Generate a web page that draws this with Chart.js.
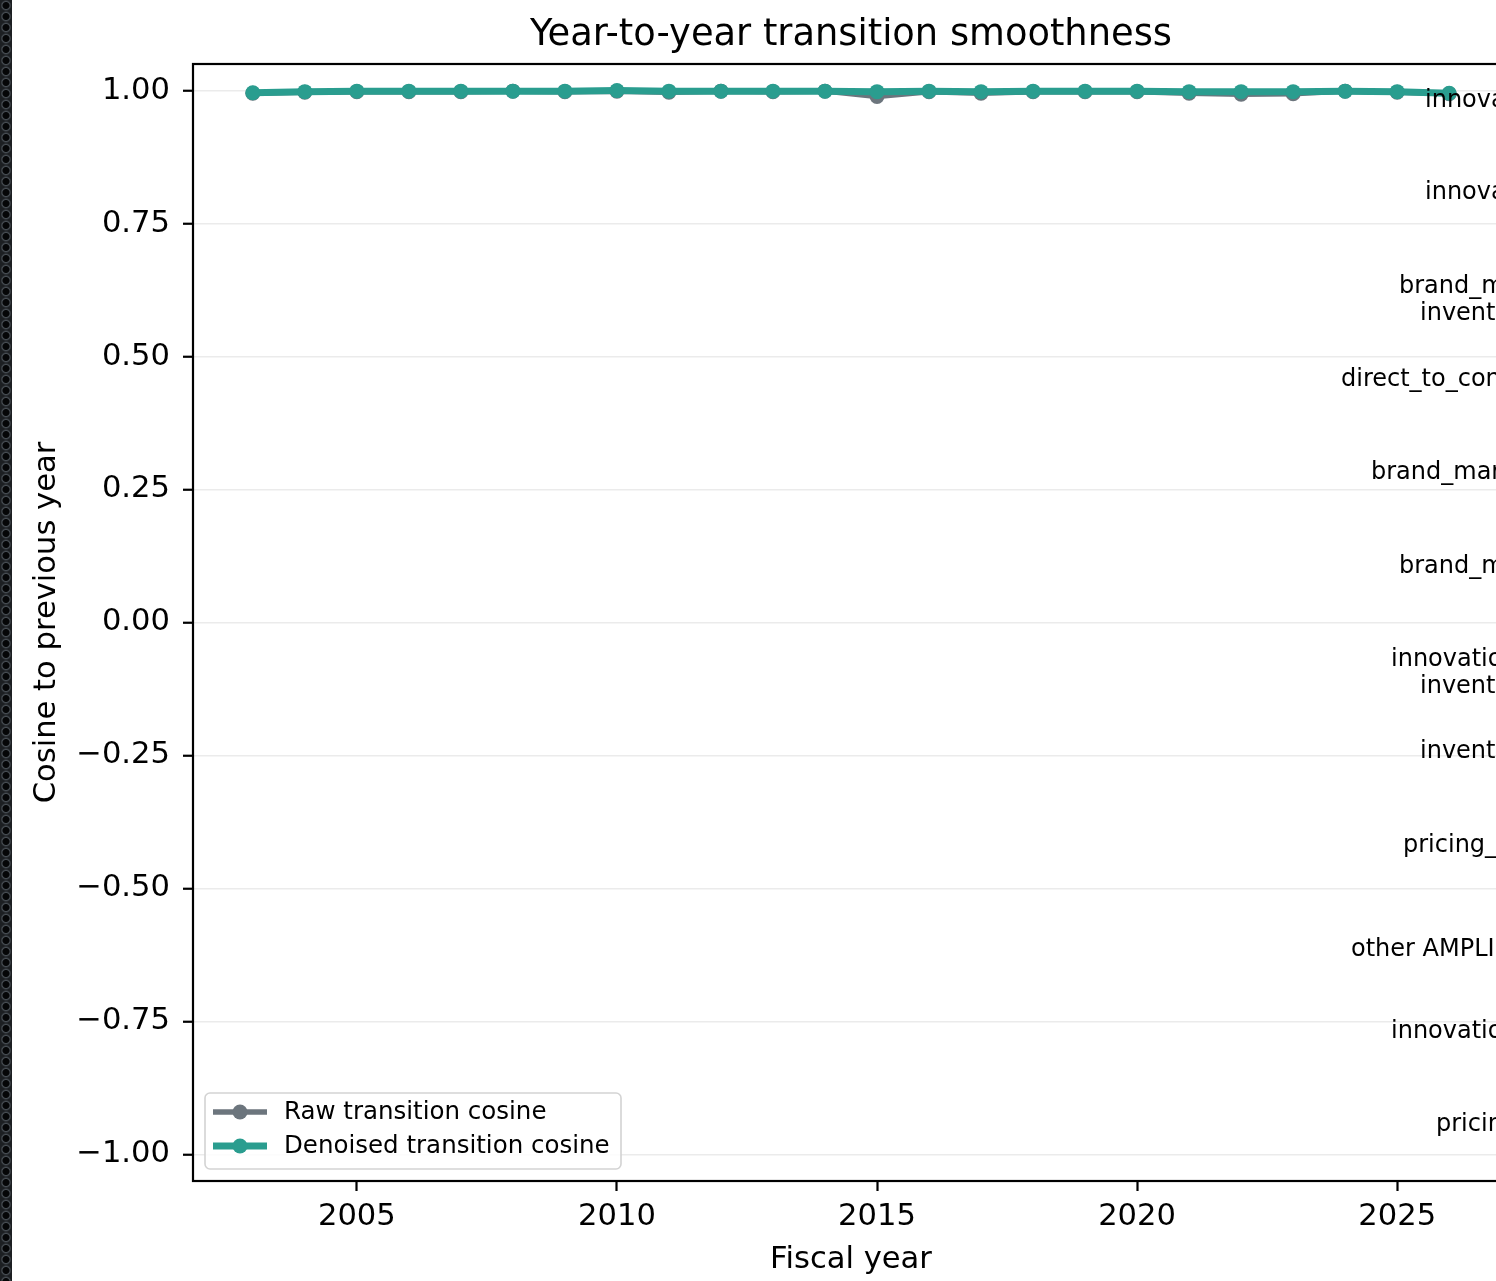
<!DOCTYPE html>
<html>
<head>
<meta charset="utf-8">
<title>Year-to-year transition smoothness</title>
<script src="https://cdn.jsdelivr.net/npm/chart.js@4.4.1/dist/chart.umd.min.js"></script>
<style>
  html, body { margin: 0; padding: 0; background: #fff; overflow: hidden; width: 1496px; height: 1281px; }
  #wrap { position: relative; width: 1496px; height: 1281px; overflow: hidden; }
  #c { position: absolute; left: 0; top: 0; }
  #edge {
    position: absolute; left: 0; top: 0; width: 12px; height: 1281px;
    background-color: #15181b;
    background-image: radial-gradient(circle, #050607 0 3px, #474d53 4px, #1c1f22 5.5px);
    background-size: 12px 11px;
  }
</style>
</head>
<body>
<div id="wrap">
  <canvas id="c" width="1700" height="1281"></canvas>
  <div id="edge"></div>
</div>
<script>
// ---- data ----
const years = [2003, 2004, 2005, 2006, 2007, 2008, 2009, 2010, 2011, 2012, 2013, 2014,
               2015, 2016, 2017, 2018, 2019, 2020, 2021, 2022, 2023, 2024, 2025, 2026];
const rawCosine = [0.995, 0.997, 0.998, 0.998, 0.998, 0.999, 0.998, 0.999, 0.997, 0.999, 0.998, 0.999,
                   0.989, 0.998, 0.995, 0.998, 0.998, 0.998, 0.995, 0.993, 0.994, 0.999, 0.997, 0.994];
const denoisedCosine = [0.996, 0.998, 0.999, 0.999, 0.999, 0.999, 0.999, 1.000, 0.999, 0.999, 0.999, 0.999,
                        0.998, 0.999, 0.998, 0.999, 0.999, 0.999, 0.998, 0.998, 0.998, 0.999, 0.998, 0.995];
const xTickValues = [2005, 2010, 2015, 2020, 2025];
const yTickValues = [-1.0, -0.75, -0.5, -0.25, 0.0, 0.25, 0.5, 0.75, 1.0];
const seriesNames = ['Raw transition cosine', 'Denoised transition cosine'];
const sideLabelLines = ['innovation', 'innovation', 'brand_marketing', 'inventory', 'direct_to_consumer',
                        'brand_marketing', 'brand_marketing', 'innovation', 'inventory', 'inventory',
                        'pricing_power', 'other AMPLIFY', 'innovation', 'pricing'];

// ---- layout / style ----
const FONT = "'DejaVu Sans', 'Liberation Sans', sans-serif";
const RAW_COLOR = '#6c757d';
const DENOISED_COLOR = '#2a9d8f';
const AREA = { left: 193, top: 64, right: 1509, bottom: 1181 };
const CANVAS_W = 1700, CANVAS_H = 1281;
// left edge and vertical centre of each side-label line, in canvas pixels
const sideLabelPos = [
  [1425, 101], [1425, 193], [1399, 287], [1420, 314], [1341, 380],
  [1371, 473], [1399, 567], [1391, 660], [1420, 687], [1420, 752],
  [1403, 846], [1351, 950], [1391, 1032], [1436, 1125]
];

const fmtY = v => (Math.abs(v) < 1e-9 ? '0.00' : v.toFixed(2)).replace('-', '\u2212');

const decorations = {
  id: 'decorations',
  afterDatasetsDraw(chart) {
    const { ctx, chartArea: a } = chart;
    ctx.save();
    ctx.strokeStyle = '#000';
    ctx.lineWidth = 2.2;
    ctx.strokeRect(a.left, a.top, a.right - a.left, a.bottom - a.top);
    ctx.restore();
  },
  afterDraw(chart) {
    const { ctx, chartArea: a } = chart;
    ctx.save();
    ctx.fillStyle = '#000';
    // title
    ctx.font = `36.8px ${FONT}`;
    ctx.textAlign = 'center';
    ctx.textBaseline = 'alphabetic';
    ctx.fillText('Year-to-year transition smoothness', (a.left + a.right) / 2, 45);
    // x axis title
    ctx.font = `30.6px ${FONT}`;
    ctx.fillText('Fiscal year', (a.left + a.right) / 2, 1268);
    // y axis title
    ctx.save();
    ctx.translate(55, (a.top + a.bottom) / 2);
    ctx.rotate(-Math.PI / 2);
    ctx.fillText('Cosine to previous year', 0, 0);
    ctx.restore();

    // side labels
    ctx.font = `24px ${FONT}`;
    ctx.textAlign = 'left';
    ctx.textBaseline = 'middle';
    sideLabelLines.forEach((t, i) => {
      const [x, y] = sideLabelPos[i];
      ctx.fillText(t, x, y);
    });

    // legend
    const bx = 205, by = 1093, bw = 416, bh = 76, r = 5;
    ctx.beginPath();
    ctx.roundRect(bx, by, bw, bh, r);
    ctx.fillStyle = 'rgba(255,255,255,0.85)';
    ctx.fill();
    ctx.strokeStyle = '#d3d3d3';
    ctx.lineWidth = 1.6;
    ctx.stroke();
    const rows = [
      { y: 1112, color: RAW_COLOR, lw: 5.5, label: seriesNames[0] },
      { y: 1146, color: DENOISED_COLOR, lw: 7, label: seriesNames[1] }
    ];
    rows.forEach(rw => {
      ctx.strokeStyle = rw.color;
      ctx.lineWidth = rw.lw;
      ctx.beginPath();
      ctx.moveTo(213, rw.y);
      ctx.lineTo(267, rw.y);
      ctx.stroke();
      ctx.fillStyle = rw.color;
      ctx.beginPath();
      ctx.arc(240, rw.y, 7.5, 0, Math.PI * 2);
      ctx.fill();
      ctx.fillStyle = '#000';
      ctx.font = `24.5px ${FONT}`;
      ctx.textBaseline = 'middle';
      ctx.fillText(rw.label, 284, rw.y + 1);
    });
    ctx.restore();
  }
};

new Chart(document.getElementById('c'), {
  type: 'line',
  data: {
    datasets: [
      {
        label: seriesNames[0],
        data: years.map((y, i) => ({ x: y, y: rawCosine[i] })),
        borderColor: RAW_COLOR,
        backgroundColor: RAW_COLOR,
        borderWidth: 5.5,
        pointRadius: 7.5,
        pointBorderWidth: 0,
        pointBackgroundColor: RAW_COLOR,
        tension: 0,
        order: 2
      },
      {
        label: seriesNames[1],
        data: years.map((y, i) => ({ x: y, y: denoisedCosine[i] })),
        borderColor: DENOISED_COLOR,
        backgroundColor: DENOISED_COLOR,
        borderWidth: 7,
        pointRadius: 7.5,
        pointBorderWidth: 0,
        pointBackgroundColor: DENOISED_COLOR,
        tension: 0,
        order: 1
      }
    ]
  },
  options: {
    responsive: false,
    animation: false,
    devicePixelRatio: 1,
    layout: { padding: { left: 0, top: AREA.top, right: CANVAS_W - AREA.right, bottom: 0 } },
    plugins: { legend: { display: false }, title: { display: false }, tooltip: { enabled: false } },
    scales: {
      x: {
        type: 'linear',
        min: 2001.85,
        max: 2027.15,
        afterBuildTicks: s => { s.ticks = xTickValues.map(v => ({ value: v })); },
        afterFit: s => { s.height = CANVAS_H - AREA.bottom; },
        ticks: { color: '#000', font: { family: FONT, size: 30.6 }, padding: 8, callback: v => String(v), maxRotation: 0 },
        grid: { drawOnChartArea: false, tickLength: 10, tickWidth: 2.2, tickColor: '#000', color: '#000' },
        border: { display: false }
      },
      y: {
        type: 'linear',
        min: -1.05,
        max: 1.05,
        afterBuildTicks: s => { s.ticks = yTickValues.map(v => ({ value: v })); },
        afterFit: s => { s.width = AREA.left; },
        ticks: { color: '#000', font: { family: FONT, size: 30.6 }, padding: 13, callback: v => fmtY(v) },
        grid: { color: '#ebebeb', lineWidth: 1.5, tickLength: 10, tickWidth: 2.2, tickColor: '#000' },
        border: { display: false }
      }
    }
  },
  plugins: [decorations]
});
</script>
</body>
</html>
